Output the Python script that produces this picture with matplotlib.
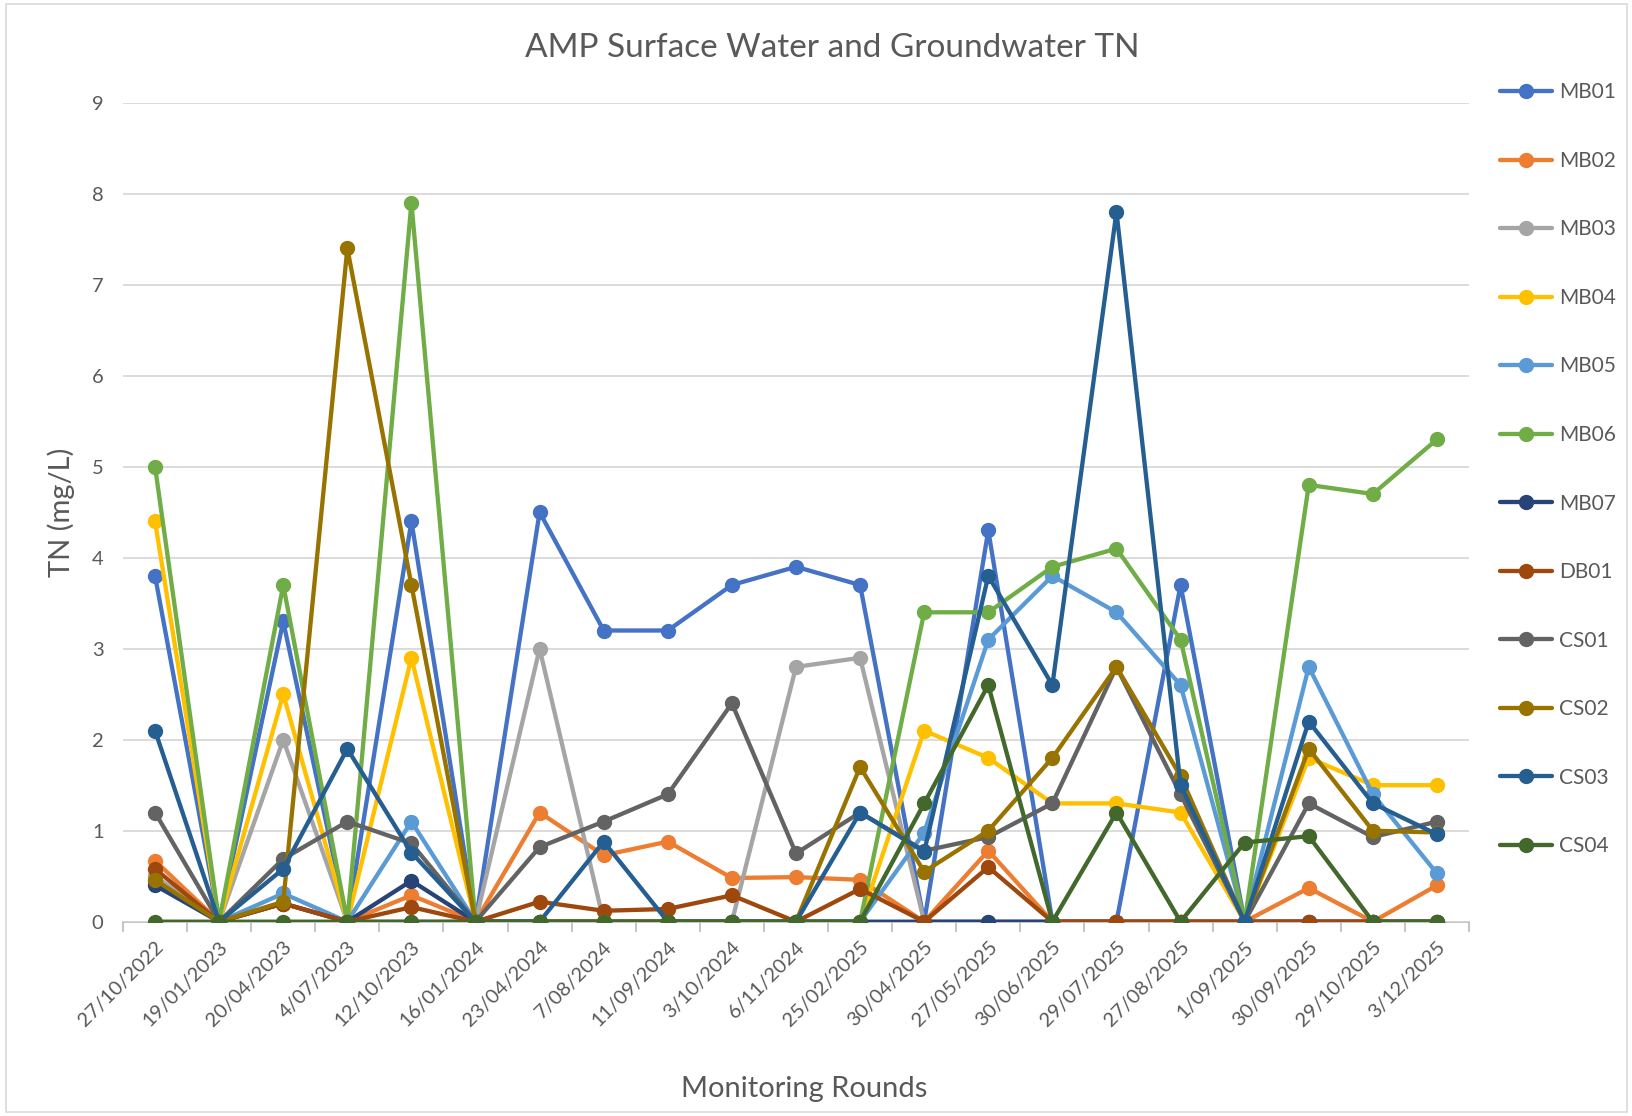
import matplotlib
matplotlib.use("Agg")
import matplotlib.pyplot as plt
from matplotlib.patches import Rectangle
import numpy as np

plt.rcParams['font.family'] = ['Lato', 'DejaVu Sans']

dates = ["27/10/2022", "19/01/2023", "20/04/2023", "4/07/2023", "12/10/2023",
         "16/01/2024", "23/04/2024", "7/08/2024", "11/09/2024", "3/10/2024",
         "6/11/2024", "25/02/2025", "30/04/2025", "27/05/2025", "30/06/2025",
         "29/07/2025", "27/08/2025", "1/09/2025", "30/09/2025", "29/10/2025",
         "3/12/2025"]

MB01 = [3.8, 0, 3.3, 0, 4.4, 0, 4.5, 3.2, 3.2, 3.7, 3.9, 3.7, 0, 4.3, 0, 0, 3.7, 0, 0, 0, 0]
MB02 = [0.67, 0, 0.2, 0, 0.29, 0, 1.2, 0.73, 0.88, 0.48, 0.49, 0.46, 0, 0.78, 0, 0, 0, 0, 0.37, 0, 0.4]
MB03 = [0.5, 0, 2.0, 0, 0, 0, 3.0, 0, 0, 0, 2.8, 2.9, 0, 0, 0, 0, 0, 0, 0, 0, 0]
MB04 = [4.4, 0, 2.5, 0, 2.9, 0, 0, 0, 0, 0, 0, 0, 2.1, 1.8, 1.3, 1.3, 1.2, 0, 1.8, 1.5, 1.5]
MB05 = [0.45, 0, 0.31, 0, 1.1, 0, 0, 0, 0, 0, 0, 0, 0.98, 3.1, 3.8, 3.4, 2.6, 0, 2.8, 1.4, 0.53]
MB06 = [5.0, 0, 3.7, 0, 7.9, 0, 0, 0, 0, 0, 0, 0, 3.4, 3.4, 3.9, 4.1, 3.1, 0, 4.8, 4.7, 5.3]
MB07 = [0.4, 0, 0.2, 0, 0.45, 0, 0, 0, 0, 0, 0, 0, 0, 0, 0, 0, 0, 0, 0, 0, 0]
DB01 = [0.58, 0, 0.2, 0, 0.16, 0, 0.22, 0.12, 0.14, 0.29, 0, 0.36, 0, 0.6, 0, 0, 0, 0, 0, 0, 0]
CS01 = [1.2, 0, 0.69, 1.1, 0.86, 0, 0.82, 1.1, 1.4, 2.4, 0.75, 1.2, 0.78, 0.93, 1.3, 2.8, 1.4, 0, 1.3, 0.93, 1.1]
CS02 = [0.46, 0, 0.22, 7.4, 3.7, 0, 0, 0, 0, 0, 0, 1.7, 0.55, 1.0, 1.8, 2.8, 1.6, 0, 1.9, 1.0, 0.98]
CS03 = [2.1, 0, 0.58, 1.9, 0.76, 0, 0, 0.88, 0, 0, 0, 1.2, 0.77, 3.8, 2.6, 7.8, 1.5, 0, 2.2, 1.3, 0.96]
CS04 = [0, 0, 0, 0, 0, 0, 0, 0, 0, 0, 0, 0, 1.3, 2.6, 0, 1.2, 0, 0.87, 0.94, 0, 0]

series_names = ["MB01", "MB02", "MB03", "MB04", "MB05", "MB06", "MB07",
                "DB01", "CS01", "CS02", "CS03", "CS04"]
series_values = [MB01, MB02, MB03, MB04, MB05, MB06, MB07, DB01, CS01, CS02, CS03, CS04]
colors = ["#4472C4", "#ED7D31", "#A5A5A5", "#FFC000", "#5B9BD5", "#70AD47",
          "#264478", "#9E480E", "#636363", "#997300", "#255E91", "#43682B"]

W, H = 1633, 1116
fig = plt.figure(figsize=(W / 100, H / 100), dpi=100)
ax = fig.add_axes([123 / W, 1 - 921.7 / H, (1469 - 123) / W, (921.7 - 102.7) / H])

x = np.arange(len(dates))
for name, vals, c in zip(series_names, series_values, colors):
    ax.plot(x, vals, color=c, linewidth=3.1, marker='o', markersize=10,
            label=name, solid_joinstyle='round', solid_capstyle='round')

ax.set_xlim(-0.5, len(dates) - 0.5)
ax.set_ylim(0, 9)
ax.set_yticks(range(0, 10))
ax.yaxis.grid(True, color='#D9D9D9', linewidth=1.3)
ax.set_axisbelow(True)
for s in ['top', 'right', 'left']:
    ax.spines[s].set_visible(False)
ax.spines['bottom'].set_color('#BFBFBF')
ax.spines['bottom'].set_linewidth(1.3)
ax.spines['bottom'].set_zorder(0.5)

ax.set_xticks(x)
ax.set_xticklabels(dates, rotation=45, ha='right', rotation_mode='anchor',
                   fontsize=14.5, color='#595959')
ax.set_xticks(np.arange(-0.5, len(dates), 1.0), minor=True)
ax.tick_params(axis='x', which='major', length=0, pad=12)
ax.tick_params(axis='x', which='minor', length=7, color='#BFBFBF', width=1.3)
ax.tick_params(axis='y', length=0, labelsize=14.5, labelcolor='#595959', pad=14)

ax.set_ylabel("TN (mg/L)", fontsize=21, color='#595959', labelpad=12)
fig.text(804 / W, 1 - 1089 / H, "Monitoring Rounds",
         fontsize=21, color='#595959', ha='center', va='center')
fig.text(832 / W, 1 - 48 / H, "AMP Surface Water and Groundwater TN",
         fontsize=24, color='#595959', ha='center', va='center')

leg = fig.legend(loc='upper left', bbox_to_anchor=(1492 / W, 1 - 74 / H),
                 frameon=False, fontsize=15, labelspacing=2.33, handlelength=2.5,
                 handletextpad=0.3, borderaxespad=0)
for t in leg.get_texts():
    t.set_color('#595959')

fig.patches.append(Rectangle((6 / W, 4 / H), (W - 12) / W, (H - 8) / H,
                             transform=fig.transFigure, fill=False,
                             edgecolor='#D9D9D9', linewidth=1.2))

fig.savefig("out.png", dpi=100, facecolor='white')
